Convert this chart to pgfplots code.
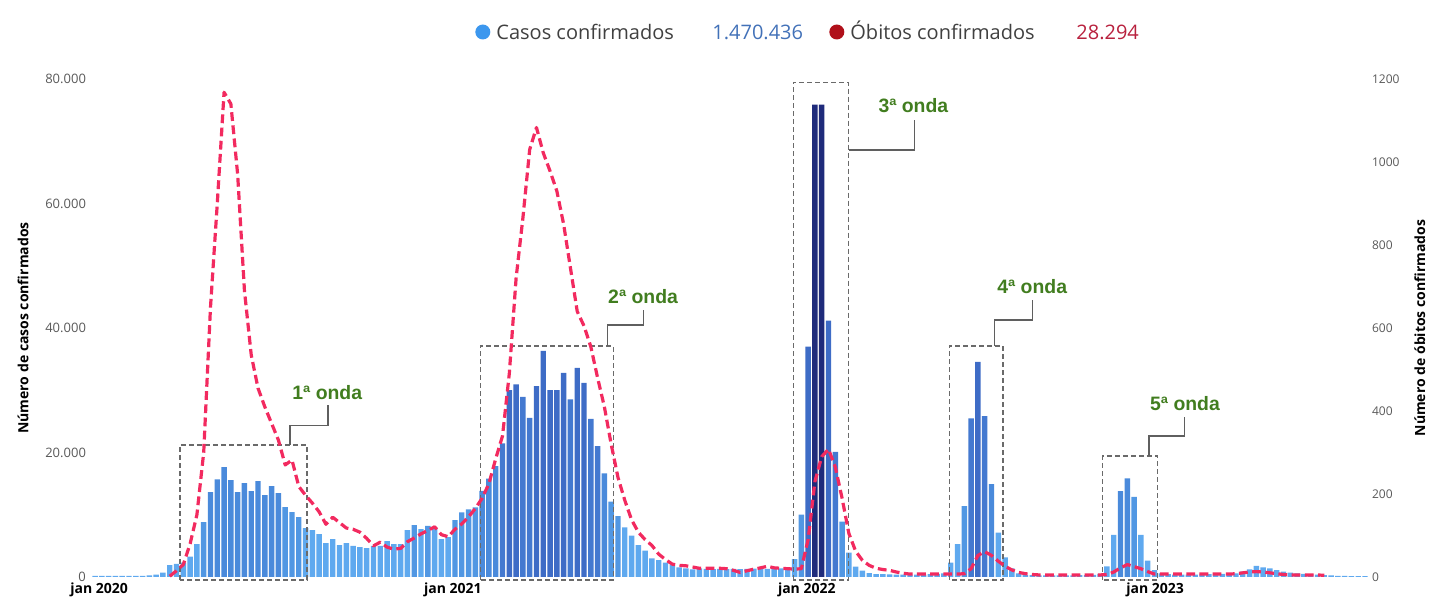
\documentclass[border=0pt]{standalone}
\usepackage{pgfplots}
\usepackage{pgfplotstable}
\pgfplotsset{compat=1.18}
\usepackage{fontspec}
\setmainfont{Open Sans}
\newfontfamily\arialfont{Liberation Sans}

\definecolor{tickgray}{HTML}{595959}
\definecolor{legendgray}{HTML}{404040}
\definecolor{boxgray}{HTML}{6A6A6A}
\definecolor{wavegreen}{HTML}{417D1F}
\definecolor{deathpink}{HTML}{F22A5F}
\definecolor{dotblue}{HTML}{3C97EE}
\definecolor{dotred}{HTML}{B0101A}
\definecolor{numblue}{HTML}{4271B8}
\definecolor{numred}{HTML}{B8213E}
\definecolor{bA}{HTML}{5FA9EF}
\definecolor{bB}{HTML}{5197E3}
\definecolor{bC}{HTML}{4A8ADB}
\definecolor{bD}{HTML}{4479D0}
\definecolor{bE}{HTML}{3E6CC6}
\definecolor{bF}{HTML}{1F2B7B}

% k = week index (0 = first week of jan 2020)
\pgfplotstableread{
k cases deaths
-1 200 nan
0 200 nan
1 200 nan
2 200 nan
3 200 nan
4 200 nan
5 200 nan
6 200 nan
7 250 nan
8 400 nan
9 700 nan
10 1900 2
11 2100 15
12 2300 30
13 3260 80
14 5300 150
15 8830 300
16 13640 650
17 15700 900
18 17650 1168
19 15570 1140
20 13640 970
21 15090 690
22 13800 535
23 15400 455
24 13160 410
25 14600 370
26 13480 330
27 11240 270
28 10430 282
29 9630 218
30 7860 197
31 7540 178
32 6900 157
33 5460 127
34 6100 144
35 5140 131
36 5460 118
37 4980 115
38 4800 108
39 4650 93
40 4980 75
41 4980 84
42 5780 72
43 5300 67
44 5300 69
45 7540 85
46 8350 94
47 7700 104
48 8200 112
49 7700 121
50 6100 102
51 6420 97
52 9150 115
53 10380 128
54 10850 145
55 11170 165
56 13850 190
57 15800 225
58 17800 285
59 21460 340
60 30010 490
61 30930 720
62 28940 865
63 25570 1030
64 30660 1083
65 36320 1022
66 30010 978
67 30010 930
68 32790 850
69 28520 745
70 33600 640
71 31190 605
72 25410 555
73 21030 480
74 16640 410
75 12090 320
76 9790 240
77 7970 185
78 6630 138
79 5140 108
80 4230 90
81 3000 76
82 2730 55
83 2300 42
84 1930 31
85 1560 28
86 1400 27
87 1230 24
88 1400 21
89 1300 21
90 1250 21
91 1300 21
92 1250 20
93 1300 16
94 1250 11
95 1300 15
96 1350 19
97 1350 22
98 1300 26
99 1400 22
100 1380 21
101 1400 20
102 2890 19
103 10000 20
104 37000 90
105 75900 230
106 75900 290
107 41200 308
108 20100 265
109 8880 190
110 3900 105
111 1650 62
112 1010 40
113 640 28
114 480 21
115 450 18
116 420 16
117 400 12
118 400 9
119 380 7
120 380 7
121 400 7
122 450 7
123 500 7
124 600 7
125 2300 7
126 5300 7
127 11400 8
128 25500 20
129 34560 52
130 25840 61
131 14930 52
132 7110 38
133 3160 26
134 1400 17
135 600 11
136 350 8
137 300 6
138 250 5
139 250 5
140 250 5
141 250 5
142 250 5
143 250 5
144 300 5
145 300 5
146 350 5
147 500 5
148 1700 6
149 6750 12
150 13800 22
151 15840 30
152 12890 25
153 6750 20
154 2620 13
155 1120 7
156 600 7
157 450 7
158 400 7
159 400 7
160 400 7
161 400 7
162 420 7
163 450 7
164 450 7
165 500 7
166 550 7
167 590 8
168 850 10
169 1230 12
170 1770 13
171 1560 12
172 1400 10
173 1120 8
174 850 6
175 690 5
176 590 5
177 500 5
178 450 5
179 400 5
180 320 4
181 250 nan
182 200 nan
183 200 nan
184 150 nan
185 150 nan
186 150 nan
}\covid

\pgfplotsset{
  bars/.style={ybar, bar width=0.8, bar shift=0pt, draw=none, fill=#1},
  commonaxis/.style={
    at={(0,0)}, anchor=south west,
    scale only axis, width=636pt, height=249pt,
    xmin=-1.3, xmax=186,
    axis line style={draw=none}, tick style={draw=none},
    scaled y ticks=false,
    /pgf/number format/assume math mode=true,
    clip=false,
  },
}
\tikzset{
  wavebox/.style={draw=boxgray, line width=0.6pt, dash pattern=on 2.5pt off 1.5pt},
  callout/.style={draw=boxgray!90!black, line width=0.6pt},
  wavelabel/.style={font=\arialfont\bfseries\fontsize{9.7}{11}\selectfont, text=wavegreen, anchor=center, inner sep=0pt},
}

\begin{document}
\begin{tikzpicture}
\useasboundingbox (-46.5pt,-11pt) rectangle (670.5pt,288.5pt);

\begin{axis}[
  commonaxis,
  ymin=0, ymax=80000,
  xtick={-0.4,51.7,103.8,155.1},
  xticklabels={jan 2020,jan 2021,jan 2022,jan 2023},
  xticklabel style={font=\fontsize{7}{8}\selectfont\bfseries, text=black, anchor=center, yshift=-6.5pt},
  ytick={0,20000,40000,60000,80000},
  yticklabel style={/pgf/number format/.cd, fixed, 1000 sep={.}, /tikz/.cd,
    font=\fontsize{6.5}{7}\selectfont, text=tickgray},
  ylabel={Número de casos confirmados},
  ylabel style={at={(axis description cs:-0.055,0.5)}, anchor=center,
    font=\fontsize{7}{8}\selectfont\bfseries},
]
\addplot[bars=bA, restrict y to domain=0:7999] table[x=k, y=cases] {\covid};
\addplot[bars=bB, restrict y to domain=8000:12999] table[x=k, y=cases] {\covid};
\addplot[bars=bC, restrict y to domain=13000:19999] table[x=k, y=cases] {\covid};
\addplot[bars=bD, restrict y to domain=20000:29999] table[x=k, y=cases] {\covid};
\addplot[bars=bE, restrict y to domain=30000:49999] table[x=k, y=cases] {\covid};
\addplot[bars=bF, restrict y to domain=50000:100000] table[x=k, y=cases] {\covid};

% wave boxes and callouts
\draw[wavebox] (axis cs:11.5,-480) rectangle (axis cs:30.2,21200);
\draw[callout] (axis cs:27.7,21200) -- (axis cs:27.7,24400) -- (axis cs:33.3,24400) -- (axis cs:33.3,27600);
\node[wavelabel] at (axis cs:33.2,29700) {1ª onda};

\draw[wavebox] (axis cs:55.7,-480) rectangle (axis cs:75.3,37100);
\draw[callout] (axis cs:74.4,37100) -- (axis cs:74.4,40470) -- (axis cs:79.8,40470) -- (axis cs:79.8,42900);
\node[wavelabel] at (axis cs:79.7,45000) {2ª onda};

\draw[wavebox] (axis cs:101.8,-480) rectangle (axis cs:110.0,79500);
\draw[callout] (axis cs:110.0,68580) -- (axis cs:119.7,68580) -- (axis cs:119.7,73400);
\node[wavelabel] at (axis cs:119.5,75650) {3ª onda};

\draw[wavebox] (axis cs:124.8,-480) rectangle (axis cs:132.7,37100);
\draw[callout] (axis cs:131.5,37100) -- (axis cs:131.5,41270) -- (axis cs:137.0,41270) -- (axis cs:137.0,44500);
\node[wavelabel] at (axis cs:137.0,46600) {4ª onda};

\draw[wavebox] (axis cs:147.4,-480) rectangle (axis cs:155.5,19430);
\draw[callout] (axis cs:154.2,19430) -- (axis cs:154.2,22650) -- (axis cs:159.4,22650) -- (axis cs:159.4,25700);
\node[wavelabel] at (axis cs:159.5,27800) {5ª onda};
\end{axis}

\begin{axis}[
  commonaxis,
  ymin=0, ymax=1200,
  axis x line=none,
  axis y line*=right,
  ytick={0,200,...,1200},
  yticklabel style={/pgf/number format/.cd, fixed, 1000 sep={}, /tikz/.cd,
    font=\fontsize{6}{7}\selectfont, text=tickgray},
  ylabel={Número de óbitos confirmados},
  ylabel style={at={(axis description cs:1.043,0.5)}, anchor=center, rotate=0,
    font=\fontsize{7}{8}\selectfont\bfseries},
]
\addplot[color=deathpink, line width=1.6pt, dash pattern=on 4.4pt off 2.2pt, line join=round]
  table[x=k, y=deaths] {\covid};
\end{axis}

% legend row
\fill[dotblue] (194.9pt,272.5pt) circle (3.75pt);
\node[anchor=base west, inner sep=0pt, font=\fontsize{10}{12}\selectfont, text=legendgray] at (201.5pt,268.5pt) {Casos confirmados};
\node[anchor=base west, inner sep=0pt, font=\fontsize{10}{12}\selectfont, text=numblue] at (309.5pt,268.5pt) {1.470.436};
\fill[dotred] (371.9pt,272.5pt) circle (3.75pt);
\node[anchor=base west, inner sep=0pt, font=\fontsize{10}{12}\selectfont, text=legendgray] at (378.5pt,268.5pt) {Óbitos confirmados};
\node[anchor=base west, inner sep=0pt, font=\fontsize{10}{12}\selectfont, text=numred] at (491.5pt,268.5pt) {28.294};
\end{tikzpicture}
\end{document}
